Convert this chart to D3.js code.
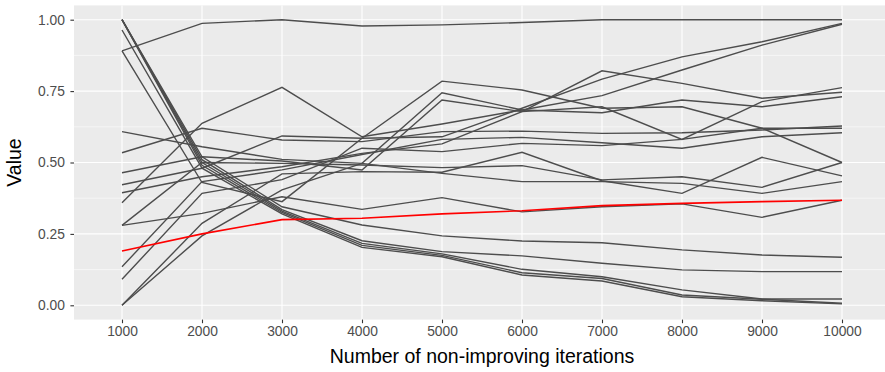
<!DOCTYPE html>
<html><head><meta charset="utf-8">
<script src="https://cdn.jsdelivr.net/npm/d3@7"></script>
<style>body{margin:0;background:#fff}svg{display:block}text{font-family:"Liberation Sans",Arial,sans-serif}</style>
</head><body>
<svg id="c" width="885" height="372"></svg>
<script>
const iterations = [1000,2000,3000,4000,5000,6000,7000,8000,9000,10000];
const xTickLabels = ["1000","2000","3000","4000","5000","6000","7000","8000","9000","10000"];
const yTicks = [0,0.25,0.5,0.75,1];
const yTickLabels = ["0.00","0.25","0.50","0.75","1.00"];
const xTitle = "Number of non-improving iterations";
const yTitle = "Value";

const runA  = [0.891,0.987,1.000,0.978,0.982,0.990,1.000,1.000,1.000,1.000];
const runB1 = [1.000,0.520,0.345,0.281,0.243,0.225,0.219,0.194,0.176,0.168];
const runB2 = [1.000,0.510,0.335,0.226,0.188,0.173,0.147,0.124,0.118,0.118];
const runB3 = [1.000,0.500,0.330,0.217,0.180,0.126,0.100,0.054,0.022,0.022];
const runB4 = [1.000,0.490,0.325,0.210,0.175,0.114,0.094,0.036,0.021,0.007];
const runB5 = [0.964,0.480,0.320,0.203,0.170,0.106,0.085,0.030,0.016,0.005];
const runD  = [0.891,0.430,0.363,0.585,0.785,0.754,0.690,0.695,0.620,0.500];
const runS  = [0.280,0.322,0.380,0.336,0.377,0.327,0.345,0.355,0.308,0.368];
const runE  = [0.608,0.555,0.511,0.497,0.744,0.684,0.674,0.719,0.695,0.730];
const runU5 = [0.534,0.620,0.579,0.573,0.608,0.610,0.602,0.604,0.614,0.628];
const runU4 = [0.464,0.520,0.505,0.474,0.719,0.678,0.695,0.581,0.713,0.762];
const runU2 = [0.359,0.637,0.763,0.590,0.635,0.684,0.734,0.824,0.911,0.984];
const runU1 = [0.422,0.480,0.593,0.585,0.590,0.690,0.792,0.870,0.923,0.987];
const runU3 = [0.394,0.450,0.485,0.532,0.565,0.678,0.821,0.777,0.725,0.746];
const runF1 = [0.280,0.500,0.497,0.491,0.482,0.489,0.439,0.450,0.413,0.500];
const runF2 = [0.135,0.433,0.474,0.528,0.581,0.588,0.569,0.550,0.590,0.604];
const runF3 = [0.091,0.392,0.440,0.550,0.538,0.567,0.559,0.581,0.620,0.620];
const runP  = [0.000,0.287,0.460,0.468,0.466,0.536,0.436,0.392,0.518,0.453];
const runQ  = [0.000,0.243,0.404,0.497,0.462,0.433,0.433,0.427,0.392,0.433];
const runRed = [0.190,0.250,0.300,0.305,0.320,0.331,0.349,0.357,0.363,0.368];

const greyRuns = [runA,runB1,runB2,runB3,runB4,runB5,runD,runS,runE,runU5,runU4,runU2,runU1,runU3,runF1,runF2,runF3,runP,runQ];

const svg = d3.select("#c");
const panel = {left:74, right:890, top:5.4, bottom:319.6};

const x = d3.scalePoint().domain(iterations).range([122, 842]);
const y = d3.scaleLinear().domain([0,1]).range([305.3, 19.7]);

svg.append("rect").attr("x",panel.left).attr("y",panel.top)
  .attr("width",panel.right-panel.left).attr("height",panel.bottom-panel.top).attr("fill","#EBEBEB");

const g = svg.append("g");
const minor = [0.125,0.375,0.625,0.875];
g.selectAll(".minor").data(minor).join("line")
  .attr("x1",panel.left).attr("x2",panel.right).attr("y1",d=>y(d)).attr("y2",d=>y(d))
  .attr("stroke","#fff").attr("stroke-width",0.55);
g.selectAll(".majory").data(yTicks).join("line")
  .attr("x1",panel.left).attr("x2",panel.right).attr("y1",d=>y(d)).attr("y2",d=>y(d))
  .attr("stroke","#fff").attr("stroke-width",1.1);
g.selectAll(".majorx").data(iterations).join("line")
  .attr("y1",panel.top).attr("y2",panel.bottom).attr("x1",d=>x(d)).attr("x2",d=>x(d))
  .attr("stroke","#fff").attr("stroke-width",1.1);

const line = d3.line().x((d,i)=>x(iterations[i])).y(d=>y(d));
svg.append("g").selectAll("path").data(greyRuns).join("path")
  .attr("d",line).attr("fill","none").attr("stroke","#4D4D4D").attr("stroke-width",1.4);
svg.append("path").datum(runRed).attr("d",line).attr("fill","none")
  .attr("stroke","#FF0000").attr("stroke-width",1.6);

const xAxis = d3.axisBottom(x).tickSizeInner(3.6).tickSizeOuter(0).tickPadding(3)
  .tickFormat((d,i)=>xTickLabels[i]);
const gx = svg.append("g").attr("transform",`translate(0,${panel.bottom})`).call(xAxis);
gx.select(".domain").remove();
gx.selectAll("line").attr("stroke","#333").attr("stroke-width",1.1);
gx.selectAll("text").attr("fill","#4D4D4D").style("font-size","13.8px");

const yAxis = d3.axisLeft(y).tickValues(yTicks).tickSizeInner(3.6).tickSizeOuter(0).tickPadding(5.5)
  .tickFormat((d,i)=>yTickLabels[i]);
const gy = svg.append("g").attr("transform",`translate(${panel.left},0)`).call(yAxis);
gy.select(".domain").remove();
gy.selectAll("line").attr("stroke","#333").attr("stroke-width",1.1);
gy.selectAll("text").attr("fill","#4D4D4D").style("font-size","13.8px");

svg.append("text").attr("x",482).attr("y",363)
  .attr("text-anchor","middle").style("font-size","19.5px").attr("fill","#000").text(xTitle);
svg.append("text").attr("transform",`translate(21,${(panel.top+panel.bottom)/2}) rotate(-90)`)
  .attr("text-anchor","middle").style("font-size","19.5px").attr("fill","#000").text(yTitle);
</script>
</body></html>
